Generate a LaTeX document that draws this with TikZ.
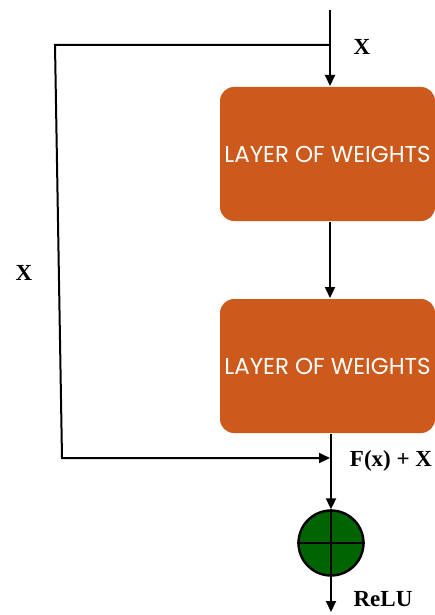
\documentclass[tikz,border=0pt]{standalone}
\usepackage{fontspec}
\setmainfont{Liberation Serif}
\newfontfamily\popfont{Poppins}
\usetikzlibrary{positioning,arrows.meta}
\definecolor{layerorange}{RGB}{205,90,29}
\definecolor{sumgreen}{RGB}{0,100,0}
\newcommand{\layerbox}[3]{% x, y, name   (orange weight layer)
  \node[layerbox] (#3) at (#1,#2) {LAYER OF WEIGHTS};}
\newcommand{\lbl}[3]{% x, y, text   (bold serif label)
  \node[font=\fontsize{23}{25}\selectfont\bfseries] at (#1,#2) {#3};}

\begin{document}
\begin{tikzpicture}[x=1pt,y=-1pt,>={Triangle[length=11pt,width=10pt]},line width=2pt,
  layerbox/.style={fill=layerorange,rounded corners=14pt,minimum width=215pt,minimum height=134pt,
    inner sep=0,text=white,font=\popfont\fontsize{23}{25}\selectfont},
  sumnode/.style={circle,draw,line width=2.4pt,fill=sumgreen,minimum size=65pt,inner sep=0}]
  \useasboundingbox (0,0) rectangle (435,615);
  \coordinate (in) at (330,10);
  \layerbox{327.5}{154}{l1}
  \layerbox{327.5}{366}{l2}
  \node[sumnode] (sum) at (331,543) {};
  \draw (sum.north) -- (sum.south) (sum.west) -- (sum.east);
  \coordinate (out) at (331,612);
  % main path
  \draw[->] (in) -- (l1.north -| in);
  \draw[->] (l1.south -| in) -- (l2.north -| in);
  \draw[->] (l2.south -| sum) -- (sum.north);
  \draw[->] (sum.south) -- (out);
  % skip connection
  \coordinate (split) at (330,45);
  \coordinate (sk1) at (55,45);
  \coordinate (sk2) at (62,458);
  \coordinate (join) at (330,458);
  \draw[->] (split) -- (sk1) -- (sk2) -- (join);
  % labels
  \lbl{362}{47}{X}
  \lbl{24}{273}{X}
  \lbl{391}{461}{F(x) + X}
  \lbl{383}{599}{ReLU}
\end{tikzpicture}
\end{document}
